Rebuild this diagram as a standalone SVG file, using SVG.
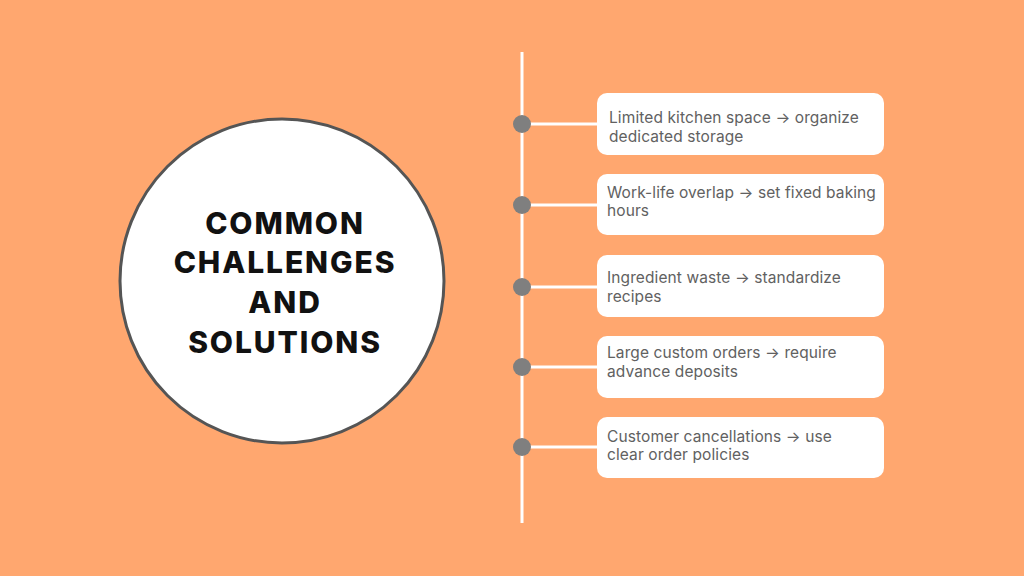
<svg xmlns="http://www.w3.org/2000/svg" width="1024" height="576" viewBox="0 0 1024 576">
<style>
.bg{fill:#FFA76F}
.title{font-family:Inter,"Open Sans","Liberation Sans",sans-serif;font-weight:800;font-size:30px;letter-spacing:1.9px;fill:#111;text-anchor:middle}
.box{fill:#fff}
.t{font-family:Inter,"Open Sans","Liberation Sans",sans-serif;font-size:15.5px;letter-spacing:0.1px;fill:#616161}
.dot{fill:#7f7f7f}
.ln{stroke:#fff;stroke-width:3;fill:none}
</style>
<rect class="bg" x="0" y="0" width="1024" height="576"/>
<g id="connectors">
<line class="ln" x1="522" y1="52" x2="522" y2="523"/>
<line class="ln" x1="522" y1="124" x2="598" y2="124"/>
<line class="ln" x1="522" y1="205" x2="598" y2="205"/>
<line class="ln" x1="522" y1="287" x2="598" y2="287"/>
<line class="ln" x1="522" y1="367" x2="598" y2="367"/>
<line class="ln" x1="522" y1="447" x2="598" y2="447"/>
<circle class="dot" cx="522" cy="124" r="9"/>
<circle class="dot" cx="522" cy="205" r="9"/>
<circle class="dot" cx="522" cy="287" r="9"/>
<circle class="dot" cx="522" cy="367" r="9"/>
<circle class="dot" cx="522" cy="447" r="9"/>
</g>
<g id="title">
<circle cx="282" cy="281" r="162" fill="#fff" stroke="#555" stroke-width="3"/>
<text class="title" x="285" y="234">COMMON</text>
<text class="title" x="285" y="273">CHALLENGES</text>
<text class="title" x="285" y="313">AND</text>
<text class="title" x="285" y="353">SOLUTIONS</text>
</g>
<g id="n1">
<rect class="box" x="597" y="93" width="287" height="62" rx="10"/>
<text class="t" x="609" y="123">Limited kitchen space → organize</text>
<text class="t" x="609" y="142">dedicated storage</text>
</g>
<g id="n2">
<rect class="box" x="597" y="174" width="287" height="61" rx="10"/>
<text class="t" x="607" y="198">Work-life overlap → set fixed baking</text>
<text class="t" x="607" y="216">hours</text>
</g>
<g id="n3">
<rect class="box" x="597" y="255" width="287" height="62" rx="10"/>
<text class="t" x="607" y="283">Ingredient waste → standardize</text>
<text class="t" x="607" y="302">recipes</text>
</g>
<g id="n4">
<rect class="box" x="597" y="336" width="287" height="62" rx="10"/>
<text class="t" x="607" y="358">Large custom orders → require</text>
<text class="t" x="607" y="377">advance deposits</text>
</g>
<g id="n5">
<rect class="box" x="597" y="417" width="287" height="61" rx="10"/>
<text class="t" x="607" y="442">Customer cancellations → use</text>
<text class="t" x="607" y="460">clear order policies</text>
</g>
</svg>
